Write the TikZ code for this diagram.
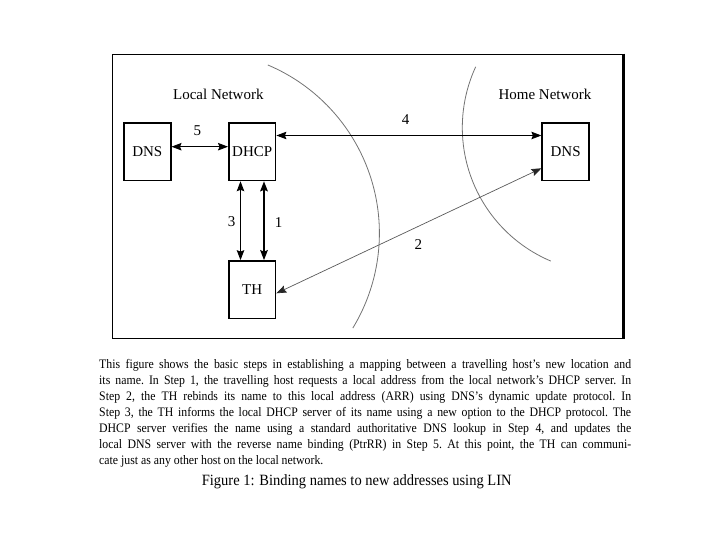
\documentclass[tikz,border=0pt]{standalone}
\usepackage{fontspec}
\setmainfont{Liberation Serif}
\usetikzlibrary{arrows.meta}
\tikzset{
  box/.style={draw=black,line width=1.6pt,minimum width=46.8pt,minimum height=57.5pt,inner sep=0pt,font=\fontsize{15}{17}\selectfont},
  lbl/.style={inner sep=0pt,font=\fontsize{15}{17}\selectfont},
  arr/.style={line width=0.9pt,{Stealth[length=10pt,width=7.5pt,inset=1.5pt]}-{Stealth[length=10pt,width=7.5pt,inset=1.5pt]}},
  thickarr/.style={arr,line width=1.9pt},
  grayarr/.style={line width=0.7pt,draw=black!65,{Stealth[length=10pt,width=7.5pt,inset=1.5pt,color=black!85,fill=black!85]}-{Stealth[length=10pt,width=7.5pt,inset=1.5pt,color=black!85,fill=black!85]}},
  netarc/.style={draw=black!55,line width=0.8pt}
}
\begin{document}
\begin{tikzpicture}[x=1pt,y=-1pt]
\useasboundingbox (0,0) rectangle (720,540);
% frame
\draw[line width=1.5pt] (112.5,54.3) rectangle (623.3,338.5);
\draw[line width=2.6pt] (623.3,53.6) -- (623.3,339.2);
% network boundaries
\draw[netarc] (196.8,233.2) ++(-67.1:182.6) arc[start angle=-67.1,end angle=31.3,radius=182.6];
\draw[netarc] (607.2,127.6) ++(112.9:144.9) arc[start angle=112.9,end angle=204.8,radius=144.9];
% nodes
\node[box] (dnsL) at (147.3,151.7) {DNS};
\node[box] (dhcp) at (252.2,151.7) {DHCP};
\node[box] (th) at (252.2,289.7) {TH};
\node[box] (dnsR) at (565.6,151.7) {DNS};
\node[lbl] (local) at (218.3,94.5) {Local Network};
\node[lbl] (home) at (545.0,94.0) {Home Network};
% connectors
\draw[arr] ([yshift=5pt]dnsL.east) -- ([yshift=5pt]dhcp.west);
\draw[arr] ([yshift=16.2pt]dhcp.east) -- ([yshift=16.2pt]dnsR.west);
\draw[arr] ([xshift=-11.7pt]dhcp.south) -- ([xshift=-11.7pt]th.north);
\draw[thickarr] ([xshift=11.8pt]dhcp.south) -- ([xshift=11.8pt]th.north);
\draw[grayarr] ([yshift=-3.6pt]th.east) -- ([yshift=-16.6pt]dnsR.west);
% step labels
\node[lbl] (l5) at (197.3,131.0) {5};
\node[lbl] (l4) at (405.7,119.5) {4};
\node[lbl] (l3) at (231.7,222.0) {3};
\node[lbl] (l1) at (278.5,222.5) {1};
\node[lbl] (l2) at (418.3,245.0) {2};
% caption
\node[anchor=north west,inner sep=0pt] (para) at (99,359.5)
{\scalebox{1}[1.1]{\parbox{532pt}{\fontsize{11.8}{14.5}\selectfont\frenchspacing
This figure shows the basic steps in establishing a mapping between a travelling host's new location and\linebreak
its name. In Step 1, the travelling host requests a local address from the local network's DHCP server. In\linebreak
Step 2, the TH rebinds its name to this local address (ARR) using DNS's dynamic update protocol. In\linebreak
Step 3, the TH informs the local DHCP server of its name using a new option to the DHCP protocol. The\linebreak
DHCP server verifies the name using a standard authoritative DNS lookup in Step 4, and updates the\linebreak
local DNS server with the reverse name binding (PtrRR) in Step 5. At this point, the TH can communi-\linebreak
cate just as any other host on the local network.}}};
\node[inner sep=0pt] (fig) at (356.7,481.7) {\scalebox{1}[1.08]{\fontsize{14.5}{17}\selectfont Figure 1: Binding names to new addresses using LIN}};
\end{tikzpicture}
\end{document}
